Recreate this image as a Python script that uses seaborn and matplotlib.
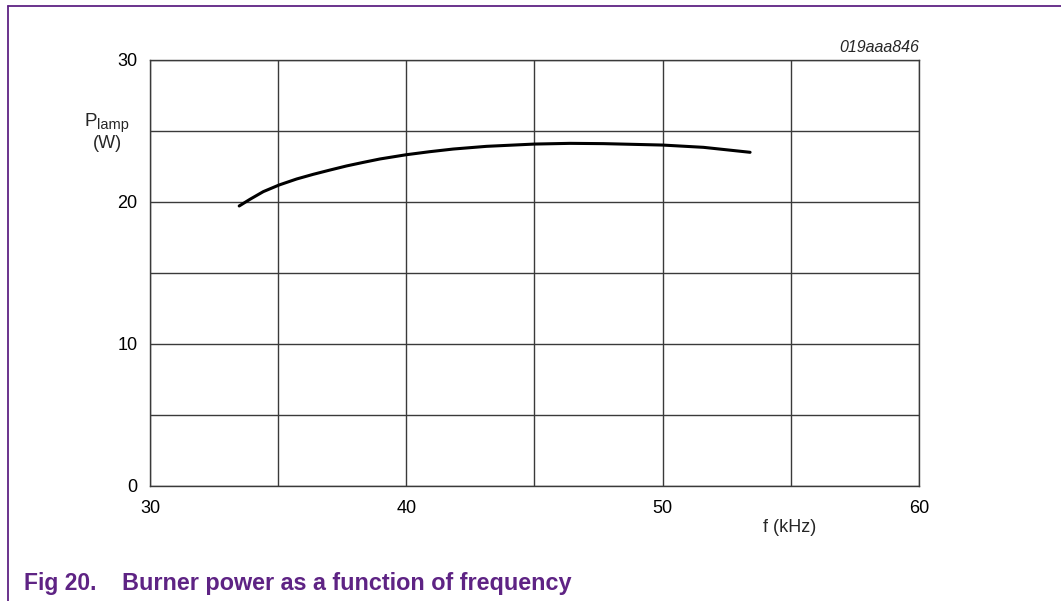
import matplotlib
matplotlib.use("Agg")
import matplotlib.pyplot as plt
from matplotlib.lines import Line2D
import seaborn as sns
import pandas as pd

# data
freq_khz = [33.48, 33.9, 34.42, 35.04, 35.72, 36.37, 37.02, 37.67, 38.32, 38.97, 40.0,
            40.9, 41.83, 43.13, 45.0, 46.39, 47.69, 50.0, 51.59, 53.41]
power_w = [19.72, 20.19, 20.73, 21.2, 21.62, 21.95, 22.25, 22.54, 22.79, 23.03, 23.33,
           23.54, 23.73, 23.92, 24.08, 24.13, 24.11, 24.01, 23.85, 23.5]
x_ticks = [30, 40, 50, 60]
y_ticks = [0, 10, 20, 30]
x_grid = [30, 35, 40, 45, 50, 55, 60]
y_grid = [0, 5, 10, 15, 20, 25, 30]
caption_num = "Fig 20."
caption_text = "Burner power as a function of frequency"
code_label = "019aaa846"

sns.set_style("white")
plt.rcParams["font.family"] = ["Liberation Sans", "DejaVu Sans"]

PURPLE = "#5E2384"
GRID = "#3a3a3a"

fig = plt.figure(figsize=(10.61, 6.01), dpi=100)
ax = fig.add_axes([150 / 1061, 1 - 486 / 601, (919 - 150) / 1061, (486 - 60) / 601])

df = pd.DataFrame({"f": freq_khz, "P": power_w})
sns.lineplot(data=df, x="f", y="P", ax=ax, color="black", linewidth=2.2, sort=False)

ax.set_xlim(30, 60)
ax.set_ylim(0, 30)
ax.set_xticks(x_grid)
ax.set_yticks(y_grid)
ax.set_xticklabels([str(v) if v in x_ticks else "" for v in x_grid])
ax.set_yticklabels([str(v) if v in y_ticks else "" for v in y_grid])
ax.tick_params(axis="both", length=0, labelsize=13, colors="black")
ax.tick_params(axis="x", pad=10)
ax.tick_params(axis="y", pad=9)
ax.grid(True, color=GRID, linewidth=1.0)
for s in ax.spines.values():
    s.set_visible(True)
    s.set_color(GRID)
    s.set_linewidth(1.0)
ax.set_xlabel("")
ax.set_ylabel("")

# y-axis label P_lamp (W)
fig.text(97 / 1061, 1 - 126.5 / 601, "P", ha="right", va="baseline", fontsize=13.5)
fig.text(97.5 / 1061, 1 - 129.5 / 601, "lamp", ha="left", va="baseline", fontsize=10.5)
fig.text(107.5 / 1061, 1 - 143 / 601, "(W)", ha="center", va="center", fontsize=13)
# x-axis label
fig.text(790 / 1061, 1 - 527 / 601, "f (kHz)", ha="center", va="center", fontsize=13)
fig.text(919 / 1061, 1 - 48 / 601, code_label, ha="right", va="center", fontsize=11.5, style="italic")

# caption (shared baseline)
fig.text(24 / 1061, 1 - 590 / 601, caption_num, ha="left", va="baseline", fontsize=16.5,
         fontweight="bold", color=PURPLE)
fig.text(122 / 1061, 1 - 590 / 601, caption_text, ha="left", va="baseline", fontsize=16.8,
         fontweight="bold", color=PURPLE)

# frame lines
fig.add_artist(Line2D([8 / 1061, 1], [1 - 6 / 601, 1 - 6 / 601], color=PURPLE, linewidth=1.3,
                      transform=fig.transFigure))
fig.add_artist(Line2D([8 / 1061, 8 / 1061], [0, 1 - 6 / 601], color=PURPLE, linewidth=1.3,
                      transform=fig.transFigure))

fig.savefig("out.png", dpi=100)
